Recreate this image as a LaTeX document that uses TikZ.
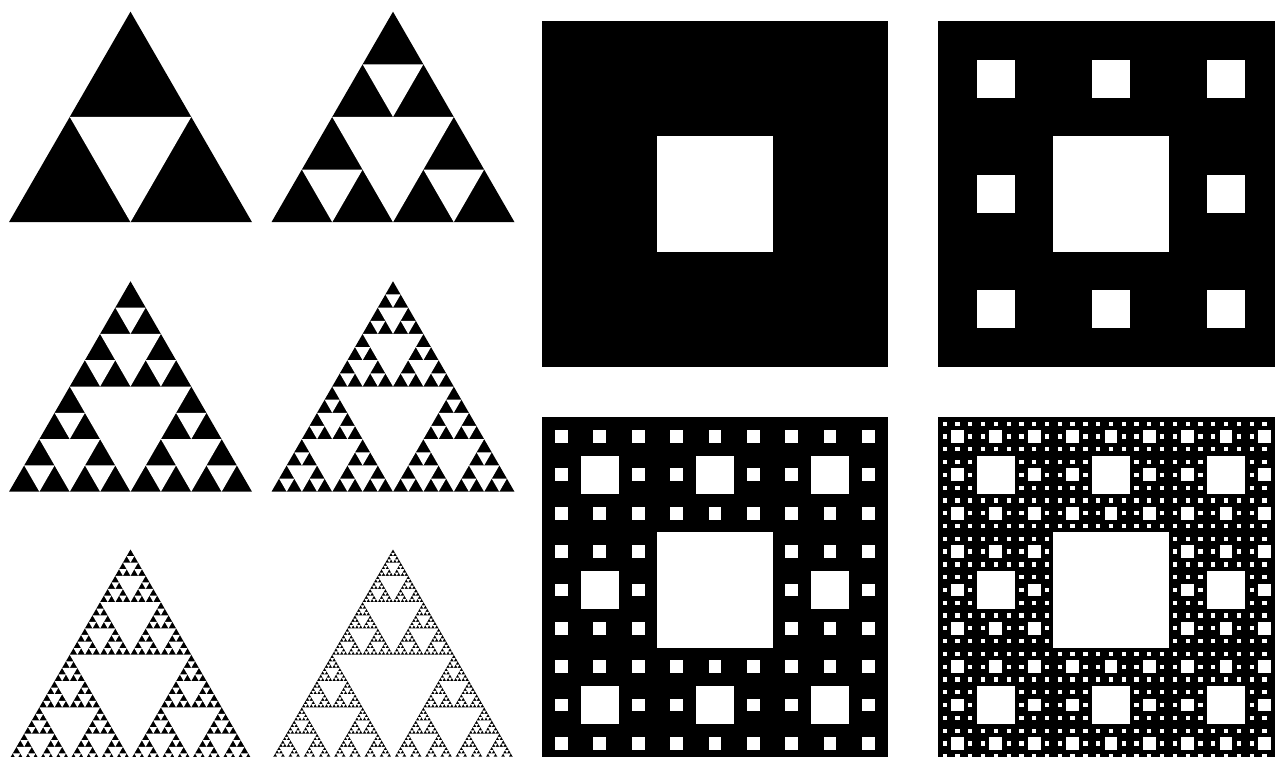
\documentclass[tikz,border=0pt]{standalone}
\newcommand\sierpholes[4]{%
 \ifnum#1>0\relax
 \begingroup
 \pgfmathsetmacro\hh{0.8660254*#4}%
 \pgfmathsetmacro\qs{#4/4}%
 \pgfmathsetmacro\hs{#4/2}%
 \pgfmathsetmacro\xl{#2-\qs}%
 \pgfmathsetmacro\xr{#2+\qs}%
 \pgfmathsetmacro\yd{#3+\hh/2}%
 \pgfmathsetmacro\yb{#3+\hh}%
 \fill[holecol] (\xl,\yd) -- (\xr,\yd) -- (#2,\yb) -- cycle;
 \pgfmathtruncatemacro\lv{#1-1}%
 \ifnum\lv>0\relax
 \edef\next{\noexpand\sierpholes{\lv}{#2}{#3}{\hs}\noexpand\sierpholes{\lv}{\xl}{\yd}{\hs}\noexpand\sierpholes{\lv}{\xr}{\yd}{\hs}}\next
 \fi
 \endgroup
 \fi}
\newcommand\sierptri[4]{% level, apex x, apex y, side
 \begingroup
 \pgfmathsetmacro\hh{0.8660254*#4}%
 \pgfmathsetmacro\xa{#2-#4/2}%
 \pgfmathsetmacro\xb{#2+#4/2}%
 \pgfmathsetmacro\yb{#3+\hh}%
 \fill[solidcol] (#2,#3) -- (\xa,\yb) -- (\xb,\yb) -- cycle;
 \endgroup
 \sierpholes{#1}{#2}{#3}{#4}}
\newcommand\carpetholes[4]{%
 \ifnum#1>0\relax
 \begingroup
 \pgfmathsetmacro\cs{#4/3}%
 \pgfmathsetmacro\ca{#2+\cs}%
 \pgfmathsetmacro\cb{#3+\cs}%
 \fill[holecol] (\ca,\cb) rectangle ++(\cs,\cs);
 \pgfmathtruncatemacro\lv{#1-1}%
 \ifnum\lv>0\relax
 \foreach \ii in {0,1,2}{\foreach \jj in {0,1,2}{%
 \ifnum\numexpr\ii*3+\jj\relax=4\relax\else
 \pgfmathsetmacro\nx{#2+\ii*\cs}\pgfmathsetmacro\ny{#3+\jj*\cs}%
 \edef\next{\noexpand\carpetholes{\lv}{\nx}{\ny}{\cs}}\next
 \fi}}%
 \fi
 \endgroup
 \fi}
\newcommand\carpet[4]{% level, x, y, size
 \fill[solidcol] (#2,#3) rectangle ++(#4,#4);
 \carpetholes{#1}{#2}{#3}{#4}}
\tikzset{solidcol/.style={fill=black}, holecol/.style={fill=white}}
\begin{document}
\begin{tikzpicture}[x=1pt,y=-1pt]
\useasboundingbox[fill=white] (0,0) rectangle (1275,757);
\clip (0,0) rectangle (1275,757);
\sierptri{1}{130.5}{11.7}{243}
\sierptri{2}{393}{11.7}{243}
\sierptri{3}{130.5}{281.3}{243}
\sierptri{4}{393}{281.3}{243}
\sierptri{5}{130.5}{549.5}{243}
\sierptri{6}{393}{549.5}{243}
\carpet{1}{542.3}{21.3}{345.3}
\carpet{2}{938.3}{21.3}{345.3}
\carpet{3}{542.3}{417.3}{345.3}
\carpet{4}{938.3}{417.3}{345.3}
\end{tikzpicture}
\end{document}
